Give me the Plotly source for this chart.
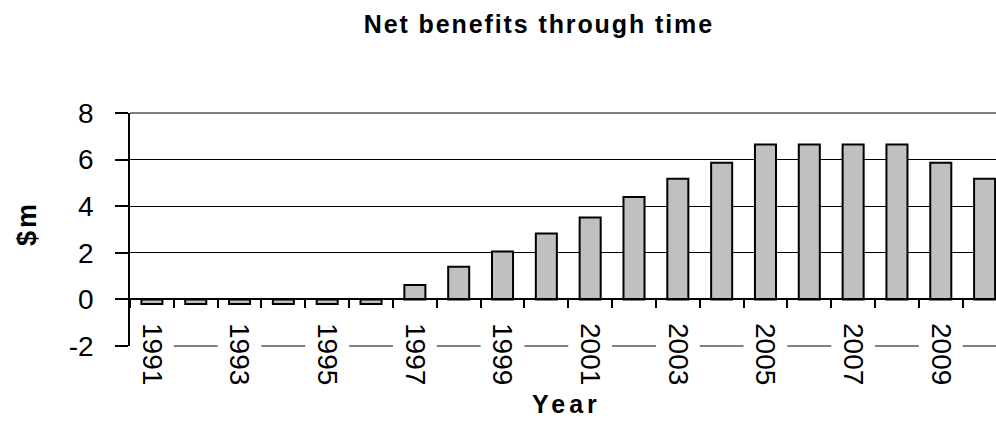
import plotly.graph_objects as go

# ---- data ----
years = ["1991", "1992", "1993", "1994", "1995", "1996", "1997", "1998", "1999", "2000",
         "2001", "2002", "2003", "2004", "2005", "2006", "2007", "2008", "2009", "2010"]
net_benefits = [-0.2, -0.2, -0.2, -0.2, -0.2, -0.2, 0.62, 1.40, 2.06, 2.83,
                3.52, 4.40, 5.18, 5.87, 6.65, 6.65, 6.65, 6.65, 5.87, 5.18]
label_years = ["1991", "1993", "1995", "1997", "1999", "2001", "2003", "2005", "2007", "2009"]
y_tick_vals = [-2, 0, 2, 4, 6, 8]
y_tick_text = ["-2", "0", "2", "4", "6", "8"]
grid_vals = [2, 4, 6]

FONT = "Liberation Sans, Arial, sans-serif"
x_range = [-0.5, 19.26]
y_range = [-2, 8]

fig = go.Figure()
fig.add_trace(go.Bar(
    x=years, y=net_benefits,
    marker=dict(color="#C0C0C0", line=dict(color="black", width=2)),
    showlegend=False, hoverinfo="x+y",
))
# invisible companion trace so the year-label axis is rendered
fig.add_trace(go.Scatter(
    x=years, y=net_benefits, xaxis="x2", yaxis="y",
    mode="none", showlegend=False, hoverinfo="skip",
))

# gray segments on the -2 line between the year labels
shapes = []
for i, yr in enumerate(years):
    if yr not in label_years:
        shapes.append(dict(type="line", xref="x", yref="paper", x0=i - 0.5, x1=i + 0.5,
                           y0=0, y1=0, line=dict(color="#808080", width=2)))
# top border of plot area
shapes.append(dict(type="line", xref="paper", yref="paper", x0=0, x1=1, y0=1, y1=1,
                   line=dict(color="#808080", width=2)))

fig.update_layout(
    width=996, height=424,
    margin=dict(l=130, r=0, t=113, b=78),
    paper_bgcolor="white", plot_bgcolor="white",
    font=dict(family=FONT, color="black"),
    bargap=0.52,
    showlegend=False,
    title=dict(
        text='<span style="letter-spacing:1.9px">Net benefits through time</span>',
        font=dict(family=FONT, size=25, color="black", weight="bold"),
        xref="container", x=0.541, xanchor="center",
        yref="container", y=0.943, yanchor="middle",
    ),
    xaxis=dict(
        type="category", range=x_range,
        anchor="free", position=(0 - y_range[0]) / (y_range[1] - y_range[0]),
        showline=True, linecolor="black", linewidth=1.5,
        ticks="outside", ticklen=8, tickwidth=1.5, tickcolor="black",
        tickson="boundaries", tickmode="linear", tick0=0, dtick=1,
        showticklabels=False, showgrid=False, zeroline=False,
    ),
    xaxis2=dict(
        type="category", categoryorder="array", categoryarray=years,
        overlaying="x", range=x_range,
        anchor="free", position=0.103, side="bottom",
        tickmode="array", tickvals=label_years, ticktext=label_years,
        tickangle=90, ticks="", showline=False, showgrid=False, zeroline=False,
        tickfont=dict(family=FONT, size=28, color="black"),
    ),
    yaxis=dict(
        range=y_range,
        tickmode="array", tickvals=y_tick_vals, ticktext=y_tick_text,
        showline=True, linecolor="black", linewidth=1.5,
        ticks="outside", ticklen=13, tickwidth=1.5, tickcolor="black",
        ticklabelstandoff=16,
        tickfont=dict(family=FONT, size=28, color="black"),
        showgrid=False, zeroline=False,
        minor=dict(tickmode="array", tickvals=grid_vals, showgrid=True,
                   gridcolor="black", gridwidth=1, ticks=""),
    ),
    shapes=shapes,
    annotations=[
        dict(text='<span style="letter-spacing:4px">Year</span>', xref="paper", yref="paper",
             x=(566 - 130) / 866, y=(346 - 404) / 233, xanchor="center", yanchor="middle",
             showarrow=False, font=dict(family=FONT, size=25, color="black", weight="bold")),
        dict(text='<span style="letter-spacing:3px">$m</span>', xref="paper", yref="paper",
             x=(27 - 130) / 866, y=(346 - 224) / 233, xanchor="center", yanchor="middle",
             textangle=-90, showarrow=False,
             font=dict(family=FONT, size=27, color="black", weight="bold")),
    ],
)

fig.write_html("out.html")
